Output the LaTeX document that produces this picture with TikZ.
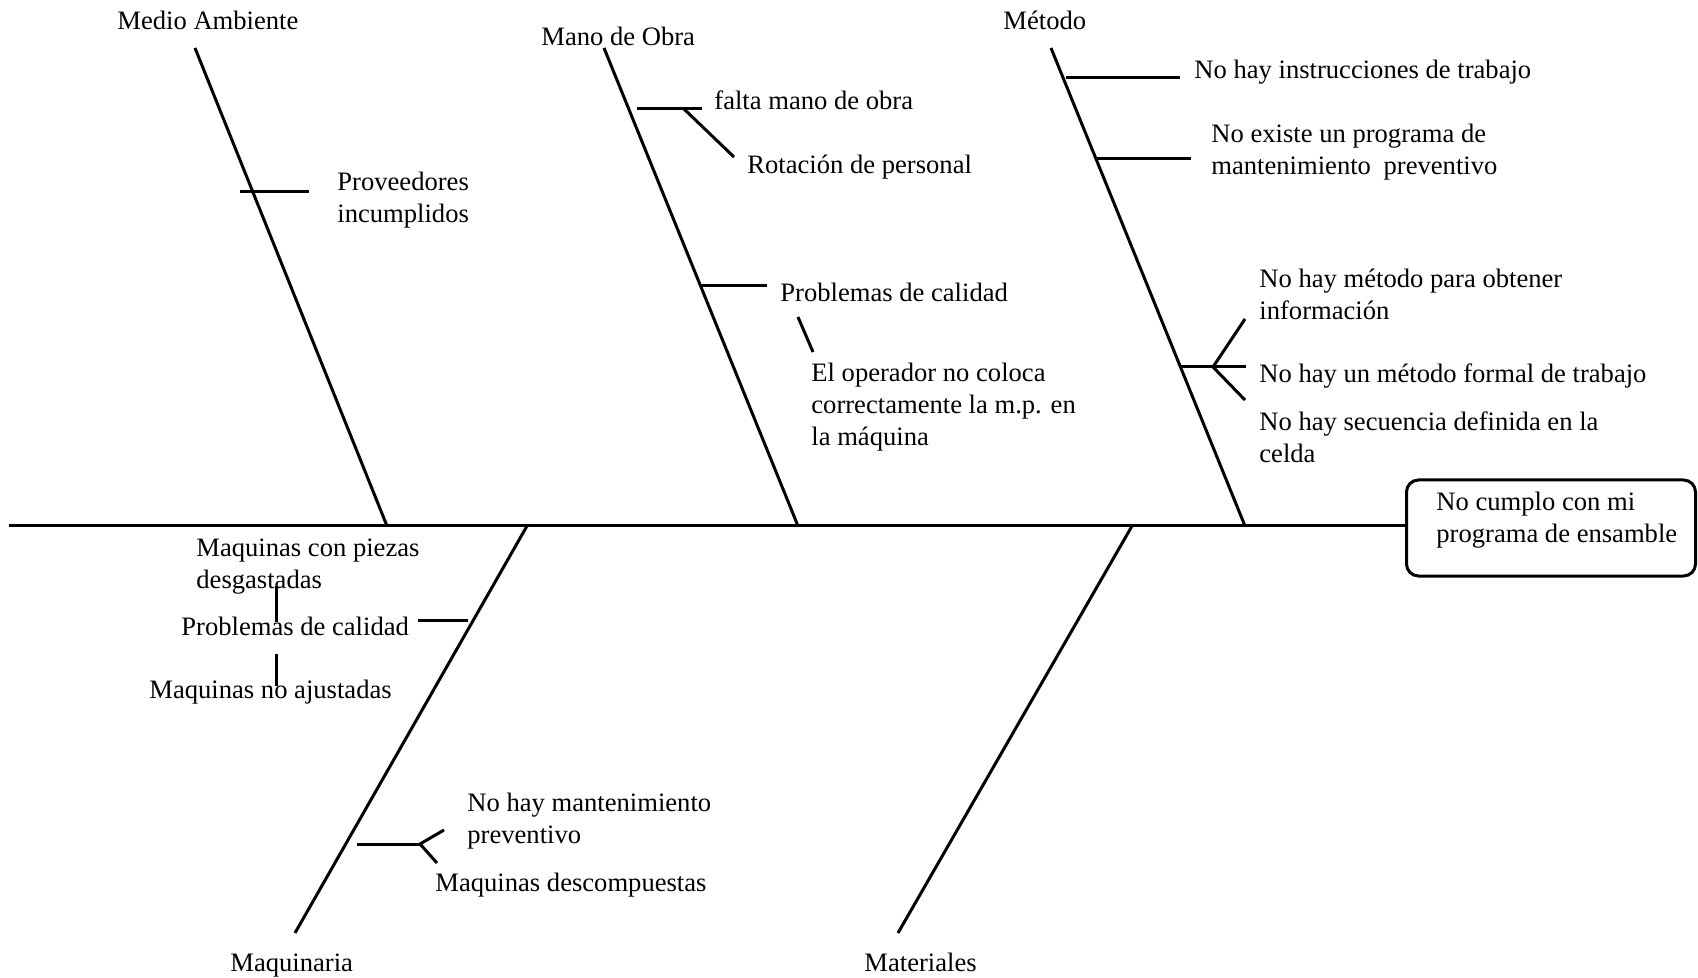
\documentclass[tikz,border=0pt]{standalone}
\usepackage{fontspec}
\setmainfont{Liberation Serif}
\newcommand\tstrut{\rule{0pt}{10pt}}
\begin{document}
\begin{tikzpicture}[x=0.5pt, y=-0.5pt,
  bone/.style={line width=1.5pt},
  lbl/.style={inner sep=0pt, anchor=north west, align=left,
              font=\fontsize{13.3}{16}\selectfont},
  effectbox/.style={draw, line width=1.5pt, rounded corners=6pt,
              minimum width=144.5pt, minimum height=48pt, inner sep=0pt}]
\useasboundingbox (0,0) rectangle (1698,978);

% effect box and spine
\node[effectbox] (effect) at (1551,528) {};
\node[lbl] (efftext) at (1436,490) {\tstrut No cumplo con mi\\programa de ensamble};
\coordinate (tail) at (9,526);
\draw[bone] (tail) -- (tail -| effect.west);

% --- Medio Ambiente ---
\coordinate (maT) at (195,48);
\coordinate (maB) at (387,526);
\draw[bone] (maT) -- (maB);
\node[lbl] (maL) at (117,9) {\tstrut Medio Ambiente};
\coordinate (ma1a) at (240,192);
\coordinate (ma1b) at (309,192);
\draw[bone] (ma1a) -- (ma1b);
\node[lbl] (ma1) at (337,170) {\tstrut Proveedores\\incumplidos};

% --- Mano de Obra ---
\coordinate (moT) at (604,48);
\coordinate (moB) at (798,526);
\draw[bone] (moT) -- (moB);
\node[lbl] (moL) at (541,25) {\tstrut Mano de Obra};
\coordinate (mo1a) at (637,109);
\coordinate (mo1b) at (702,109);
\coordinate (mo1c) at (684,109);
\coordinate (mo1d) at (734,157);
\draw[bone] (mo1a) -- (mo1b);
\draw[bone] (mo1c) -- (mo1d);
\node[lbl] (mo1) at (714,89) {\tstrut falta mano de obra};
\node[lbl] (mo2) at (747,153) {\tstrut Rotación de personal};
\coordinate (mo3a) at (702,286);
\coordinate (mo3b) at (767,286);
\draw[bone] (mo3a) -- (mo3b);
\node[lbl] (mo3) at (780,281) {\tstrut Problemas de calidad};
\coordinate (mo4a) at (798,317);
\coordinate (mo4b) at (813,352);
\draw[bone] (mo4a) -- (mo4b);
\node[lbl] (mo4) at (811,361) {\tstrut El operador no coloca\\correctamente la m.p. en\\la máquina};

% --- Método ---
\coordinate (meT) at (1051,48);
\coordinate (meB) at (1245,526);
\draw[bone] (meT) -- (meB);
\node[lbl] (meL) at (1003,9) {\tstrut Método};
\coordinate (me1a) at (1066,78);
\coordinate (me1b) at (1180,78);
\draw[bone] (me1a) -- (me1b);
\node[lbl] (me1) at (1194,58) {\tstrut No hay instrucciones de trabajo};
\coordinate (me2a) at (1097,159);
\coordinate (me2b) at (1191,159);
\draw[bone] (me2a) -- (me2b);
\node[lbl] (me2) at (1211,122) {\tstrut No existe un programa de\\mantenimiento\hspace{3pt} preventivo};
\coordinate (me3a) at (1180,367);
\coordinate (me3b) at (1246,367);
\coordinate (me3f) at (1213,367);
\coordinate (me3u) at (1245,319);
\coordinate (me3d) at (1245,400);
\draw[bone] (me3a) -- (me3b);
\draw[bone] (me3u) -- (me3f) -- (me3d);
\node[lbl] (me3) at (1259,267) {\tstrut No hay método para obtener\\información};
\node[lbl] (me4) at (1259,362) {\tstrut No hay un método formal de trabajo};
\node[lbl] (me5) at (1259,410) {\tstrut No hay secuencia definida en la\\celda};

% --- Maquinaria ---
\coordinate (mqT) at (527,526);
\coordinate (mqB) at (295,933);
\draw[bone] (mqT) -- (mqB);
\node[lbl] (mqL) at (230,951) {\tstrut Maquinaria};
\coordinate (mq1a) at (418,620);
\coordinate (mq1b) at (468,620);
\draw[bone] (mq1a) -- (mq1b);
\node[lbl] (mq1) at (181,615) {\tstrut Problemas de calidad};
\coordinate (mq2a) at (276,586);
\coordinate (mq2b) at (276,622);
\draw[bone] (mq2a) -- (mq2b);
\node[lbl] (mq2) at (196,536) {\tstrut Maquinas con piezas\\desgastadas};
\coordinate (mq3a) at (276,654);
\coordinate (mq3b) at (276,686);
\draw[bone] (mq3a) -- (mq3b);
\node[lbl] (mq3) at (149,678) {\tstrut Maquinas no ajustadas};
\coordinate (mq4a) at (357,844);
\coordinate (mq4f) at (420,844);
\coordinate (mq4u) at (444,830);
\coordinate (mq4d) at (437,863);
\draw[bone] (mq4a) -- (mq4f);
\draw[bone] (mq4u) -- (mq4f) -- (mq4d);
\node[lbl] (mq4) at (467,791) {\tstrut No hay mantenimiento\\preventivo};
\node[lbl] (mq5) at (435,871) {\tstrut Maquinas descompuestas};

% --- Materiales ---
\coordinate (mtT) at (1132,526);
\coordinate (mtB) at (898,933);
\draw[bone] (mtT) -- (mtB);
\node[lbl] (mtL) at (864,951) {\tstrut Materiales};
\end{tikzpicture}
\end{document}
